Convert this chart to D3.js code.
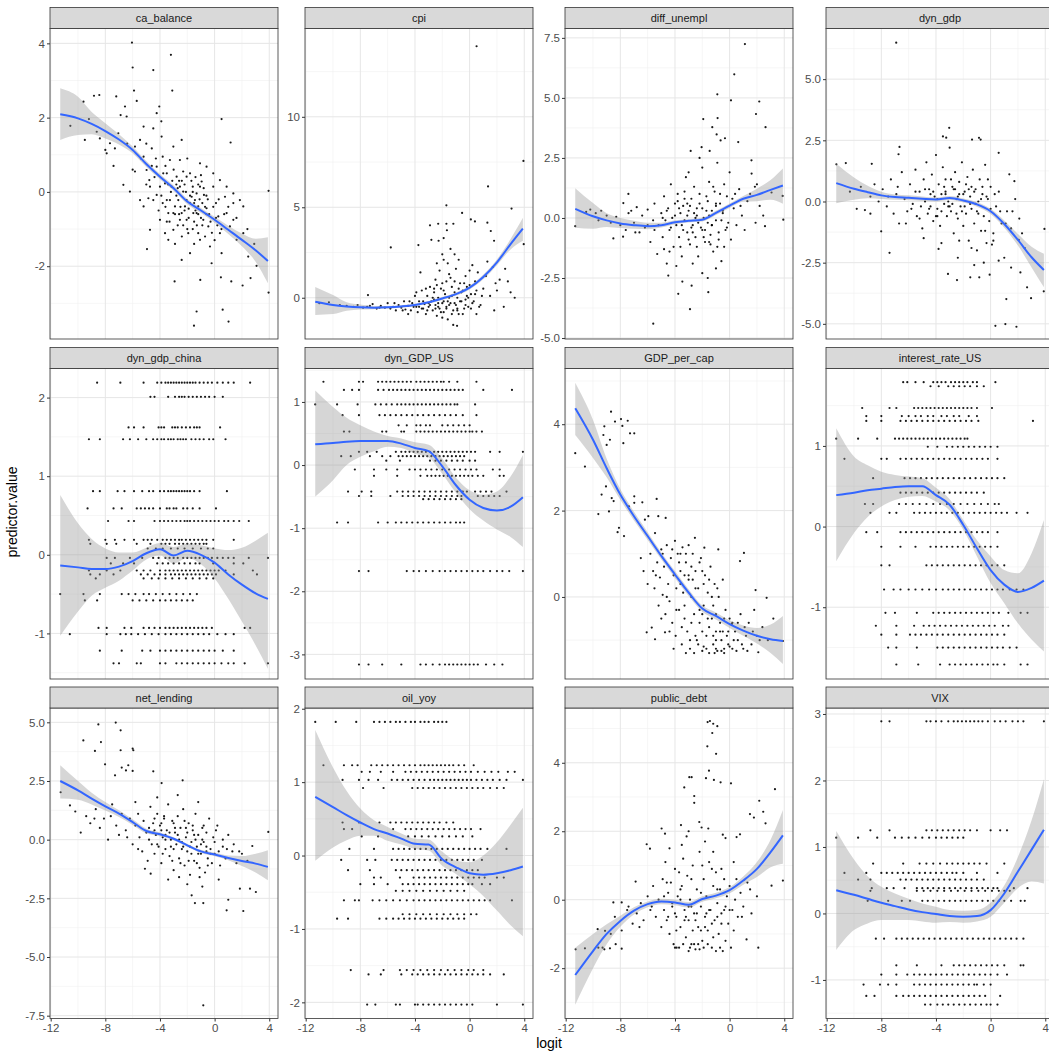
<!DOCTYPE html>
<html>
<head>
<meta charset="utf-8">
<script src="https://cdn.jsdelivr.net/npm/d3@7"></script>
<style>
  body { margin: 0; background: #fff; }
  svg { display: block; font-family: "Liberation Sans", Arial, sans-serif; }
</style>
</head>
<body>
<div class="div_facets"></div>
<script>
// facet names, in wrap order
const names = ['ca_balance', 'cpi', 'diff_unempl', 'dyn_gdp', 'dyn_gdp_china', 'dyn_GDP_US',
  'GDP_per_cap', 'interest_rate_US', 'net_lending', 'oil_yoy', 'public_debt', 'VIX'];

// shared x axis (logit)
const xTicks = [-12, -8, -4, 0, 4];

// y ticks per facet
const yTicks = [[-2, 0, 2, 4], [0, 5, 10], [-5, -2.5, 0, 2.5, 5, 7.5], [-5, -2.5, 0, 2.5, 5],
  [-1, 0, 1, 2], [-3, -2, -1, 0, 1], [0, 2, 4], [-1, 0, 1],
  [-7.5, -5, -2.5, 0, 2.5, 5], [-2, -1, 0, 1, 2], [-2, 0, 2, 4], [-1, 0, 1, 2, 3]];
const yDecimals = [0, 0, 1, 1, 0, 0, 0, 0, 1, 0, 0, 0];
// y limits per facet (as shown, incl. expansion)
const yLimits = [[-3.96, 4.40], [-2.28, 14.88], [-5.04, 7.89], [-5.62, 7.07],
  [-1.58, 2.37], [-3.39, 1.53], [-1.90, 5.29], [-1.89, 1.96],
  [-7.62, 5.61], [-2.22, 2.01], [-3.47, 5.60], [-1.58, 3.09]];

// loess smooth at these logit values
const fitX = [-11.3, -10, -9, -8, -7, -6, -5, -4, -3, -2, -1, 0, 1, 2, 3, 3.9];
const fitY = [
  [2.09, 1.98, 1.83, 1.64, 1.41, 1.13, 0.75, 0.41, 0.10, -0.26, -0.5, -0.75, -1.02, -1.29, -1.57, -1.86],
  [-0.22, -0.4, -0.48, -0.53, -0.55, -0.53, -0.48, -0.4, -0.25, -0.04, 0.2, 0.56, 1.15, 1.96, 2.96, 3.82],
  [0.38, 0.07, -0.1, -0.23, -0.3, -0.34, -0.3, -0.18, -0.12, -0.07, 0.21, 0.51, 0.8, 0.96, 1.17, 1.35],
  [0.75, 0.52, 0.38, 0.25, 0.18, 0.15, 0.11, 0.08, 0.14, 0.04, -0.12, -0.4, -0.92, -1.57, -2.28, -2.8],
  [-0.135, -0.16, -0.18, -0.18, -0.15, -0.08, 0.02, 0.07, -0.01, 0.05, 0.0, -0.1, -0.25, -0.38, -0.49, -0.56],
  [0.33, 0.35, 0.37, 0.38, 0.38, 0.38, 0.34, 0.27, 0.22, -0.02, -0.32, -0.55, -0.68, -0.72, -0.66, -0.51],
  [4.37, 3.64, 2.98, 2.37, 1.87, 1.41, 0.95, 0.52, 0.1, -0.27, -0.44, -0.63, -0.78, -0.9, -0.98, -1.02],
  [0.39, 0.42, 0.45, 0.47, 0.49, 0.5, 0.5, 0.39, 0.27, 0.02, -0.27, -0.54, -0.72, -0.81, -0.76, -0.67],
  [2.5, 2.1, 1.75, 1.42, 1.11, 0.75, 0.37, 0.23, 0.04, -0.24, -0.5, -0.63, -0.78, -0.91, -1.02, -1.16],
  [0.8, 0.66, 0.55, 0.45, 0.36, 0.3, 0.23, 0.16, 0.15, -0.05, -0.16, -0.24, -0.26, -0.24, -0.2, -0.15],
  [-2.2, -1.5, -1.0, -0.62, -0.32, -0.13, -0.05, -0.08, -0.15, 0.02, 0.12, 0.28, 0.56, 0.9, 1.39, 1.88],
  [0.35, 0.28, 0.22, 0.16, 0.11, 0.06, 0.02, -0.01, -0.04, -0.05, -0.04, 0.05, 0.3, 0.63, 0.96, 1.26]];
const fitHi = [
  [2.79, 2.56, 2.15, 1.85, 1.55, 1.22, 0.83, 0.48, 0.17, -0.19, -0.43, -0.67, -0.91, -1.12, -1.26, -1.22],
  [0.6, 0.15, -0.25, -0.38, -0.45, -0.45, -0.41, -0.33, -0.18, 0.04, 0.29, 0.66, 1.28, 2.12, 3.25, 4.42],
  [1.24, 0.62, 0.2, 0.0, -0.12, -0.2, -0.2, -0.1, -0.05, 0.01, 0.3, 0.6, 0.92, 1.22, 1.58, 2.06],
  [1.54, 0.98, 0.64, 0.4, 0.29, 0.25, 0.2, 0.16, 0.22, 0.12, -0.03, -0.3, -0.78, -1.33, -1.85, -2.14],
  [0.76, 0.40, 0.2, 0.08, 0.03, 0.03, 0.09, 0.15, 0.1, 0.14, 0.12, 0.08, 0.06, 0.09, 0.18, 0.28],
  [1.18, 0.92, 0.75, 0.63, 0.53, 0.46, 0.42, 0.36, 0.32, 0.1, -0.2, -0.4, -0.47, -0.42, -0.18, 0.16],
  [4.96, 4.1, 3.2, 2.5, 1.97, 1.5, 1.03, 0.6, 0.18, -0.2, -0.36, -0.54, -0.66, -0.72, -0.64, -0.44],
  [1.22, 0.87, 0.76, 0.68, 0.64, 0.62, 0.6, 0.48, 0.34, 0.08, -0.17, -0.37, -0.54, -0.58, -0.33, 0.08],
  [3.17, 2.5, 2.0, 1.6, 1.25, 0.87, 0.47, 0.31, 0.1, -0.18, -0.43, -0.55, -0.68, -0.7, -0.6, -0.45],
  [1.71, 1.2, 0.88, 0.64, 0.48, 0.39, 0.3, 0.23, 0.22, 0.05, -0.07, -0.09, 0.0, 0.18, 0.42, 0.65],
  [-1.4, -1.0, -0.72, -0.47, -0.22, -0.05, 0.03, 0.0, -0.07, 0.1, 0.2, 0.37, 0.68, 1.1, 1.75, 2.62],
  [1.24, 0.81, 0.56, 0.4, 0.3, 0.22, 0.15, 0.1, 0.05, 0.04, 0.05, 0.16, 0.42, 0.85, 1.4, 2.02]];
const fitLo = [
  [1.40, 1.53, 1.55, 1.44, 1.28, 1.04, 0.67, 0.34, 0.03, -0.33, -0.57, -0.83, -1.13, -1.46, -1.88, -2.46],
  [-0.95, -0.9, -0.72, -0.65, -0.63, -0.6, -0.55, -0.47, -0.32, -0.12, 0.11, 0.46, 1.02, 1.8, 2.67, 3.15],
  [-0.41, -0.45, -0.38, -0.42, -0.45, -0.47, -0.4, -0.26, -0.19, -0.15, 0.12, 0.42, 0.68, 0.7, 0.76, 0.59],
  [-0.07, 0.07, 0.13, 0.1, 0.07, 0.05, 0.02, 0.0, 0.06, -0.04, -0.21, -0.51, -1.07, -1.8, -2.7, -3.51],
  [-1.03, -0.72, -0.52, -0.42, -0.33, -0.2, -0.06, -0.01, -0.11, -0.04, -0.12, -0.3, -0.56, -0.85, -1.15, -1.45],
  [-0.5, -0.24, 0.0, 0.13, 0.22, 0.29, 0.27, 0.18, 0.12, -0.14, -0.44, -0.7, -0.88, -1.02, -1.14, -1.3],
  [3.75, 3.22, 2.77, 2.25, 1.77, 1.32, 0.87, 0.44, 0.02, -0.34, -0.52, -0.72, -0.9, -1.08, -1.3, -1.55],
  [-0.43, -0.08, 0.12, 0.25, 0.33, 0.37, 0.38, 0.31, 0.2, -0.04, -0.37, -0.7, -0.95, -1.2, -1.4, -1.55],
  [1.75, 1.7, 1.5, 1.24, 0.97, 0.63, 0.27, 0.15, -0.02, -0.3, -0.57, -0.71, -0.88, -1.12, -1.4, -1.73],
  [-0.07, 0.11, 0.21, 0.27, 0.27, 0.2, 0.15, 0.09, 0.07, -0.14, -0.25, -0.39, -0.55, -0.75, -0.95, -1.1],
  [-3.07, -2.0, -1.3, -0.79, -0.43, -0.22, -0.13, -0.16, -0.23, -0.06, 0.04, 0.19, 0.44, 0.66, 0.95, 1.05],
  [-0.55, -0.25, -0.15, -0.1, -0.1, -0.1, -0.12, -0.14, -0.13, -0.14, -0.12, -0.05, 0.16, 0.38, 0.48, 0.45]];

// scatter points [logit, value] for the continuous predictors
const caBalancePts = [[-6.05,4.02],[-6.0,3.35],[-4.49,3.28],[-3.2,3.69],[-3.1,2.73],[-5.9,2.73],[-5.7,2.45],[-8.83,2.59],[-8.44,2.61],[-7.2,2.57],[-9.6,2.43],[-10.56,1.78],[-9.5,1.4],[-9.2,1.96],[0.51,1.96],[1.17,1.33],[3.95,0.03],[3.95,-2.71],[-1.51,-3.6],[-1.32,-3.22],[0.59,-3.17],[1.02,-3.49],[-2.93,-2.41],[-1.05,-2.37],[0.46,-2.3],[1.22,-2.41],[2.05,-2.52],[3.07,-1.99],[2.63,-2.32],[-4.95,-1.54],[-4.73,-1.02],
  [-8.0,1.13],[-7.9,1.04],[-7.66,1.31],[-8.63,1.62],[-8.4,1.44],[-7.3,1.17],[-7.05,1.58],[-6.88,2.07],[-6.56,2.3],[-6.44,2.03],[-6.68,0.19],[-6.2,0.01],[-5.83,0.55],[-5.83,1.22],[-5.46,1.4],[-5.2,1.76],[-5.2,0.95],[-4.98,0.59],[-4.78,0.32],[-4.6,1.17],[-4.49,1.71],[-4.24,0.68],[-4.24,2.12],[-4.05,2.3],[-3.88,1.49],[-3.8,0.95],[-3.63,0.23],[-3.5,-0.22],[-3.39,-0.57],[-5.46,-0.22],[-5.2,-0.39],[-4.85,-0.17],[-4.24,-0.08],[-4.0,-0.75],[-3.63,-1.11],[-3.39,-1.29],[-3.02,-1.02],[-2.78,0.41],[-2.54,0.86],[-2.41,1.4],[-2.3,0.01],[-2.17,-0.39],[-2.05,-0.75],[-1.93,-1.11],[-1.8,0.5],[-1.6,0.14],[-1.44,-0.22],[-1.32,-0.57],[-1.2,-1.11],[-1.07,0.77],[-0.95,0.28],[-0.78,-0.08],[-0.59,-0.44],[-0.46,-0.93],[-0.34,-1.47],[-0.1,0.14],[0.1,-0.3],[0.27,-0.66],[0.39,-1.11],[0.51,-1.65],[0.76,-0.13],[0.88,-0.57],[1.12,-0.93],[1.37,-0.3],[1.61,-1.29],[1.85,-0.22],[2.1,-1.11],[2.46,-1.74],
  [-3.27,-0.22],[-3.15,0.14],[-2.9,-0.39],[-2.66,-0.22],[-2.41,-0.57],[-2.05,-0.22],[-1.8,-0.3],[-1.56,-0.57],[-1.2,-0.39],[-0.83,-0.75],[-1.68,-0.13],[-1.32,-0.04],[-1.07,0.14],[-3.02,-0.57],[-2.54,-0.75],[-1.07,-1.29],[-1.8,-1.65],[-2.41,-1.83],[-0.22,-1.92],[1.37,-0.75],[-4.0,0.14],[-4.49,-0.22],[-3.27,0.86],[-3.02,1.22],[-3.76,0.5],[-4.73,0.14],[-2.54,0.14],[-2.05,0.41],[-0.59,0.68],[-0.1,0.5],[0.39,0.32],[0.88,0.14],[1.37,-0.04],[2.1,-0.39],
  [-2.8,-0.1],[-2.6,0.3],[-2.2,0.2],[-1.9,-0.45],[-1.5,-0.8],[-1.4,0.4],[-0.9,-0.3],[-0.6,-0.1],[-2.4,-1.2],[-3.6,-0.4],[-3.0,0.6],[-2.0,0.9],[-1.2,-0.6],[-0.4,-0.6],[0.2,-0.9],[-2.7,-0.9],[-1.6,-1.0],[-0.7,-1.2],[0.0,-1.3],[-3.4,0.2],[-4.3,0.9],[-5.0,0.2],[-3.9,-0.1],[-2.3,0.55],[-1.0,0.45],
  [-3.8,-0.3],[-3.5,0.5],[-3.3,-0.8],[-3.1,0.3],[-2.9,-0.6],[-2.7,0.1],[-2.5,-0.4],[-2.3,-0.9],[-2.1,0.0],[-1.9,-0.7],[-1.7,0.3],[-1.5,-0.3],[-1.3,-0.9],[-1.1,-0.2],[-0.9,-0.9],[-0.7,-0.4],[-0.5,-0.2],[-0.3,-0.8],[-0.1,-0.4],[0.1,-0.7],[0.3,-0.2],[0.5,-1.0],[0.7,-0.6],[-2.6,-0.6],[-2.2,-0.5],[-1.8,-0.1],[-1.4,-0.5],[-1.0,-0.7],[-0.6,-0.6],[-2.0,-1.0],[-3.2,0.0],[-2.8,0.2],[-2.4,0.3],[-1.6,0.0],[-1.2,0.2],[-0.8,0.1],[-3.6,0.7],[-4.4,0.4],[-4.6,0.7],[-5.4,0.9],[-6.0,0.6],[-6.4,1.3],[-7.4,0.7],[-5.0,1.3],[-3.9,1.9],[-2.9,-1.4],[-1.5,-1.4],[-0.2,-1.1],[1.0,-0.4],[1.6,-0.7],[2.4,-1.0],[2.9,-1.4],[-4.1,-0.5],[-3.5,-0.8]];

const cpiPts = [[0.51,13.9],[3.94,7.56],[1.35,6.15],[-1.7,5.11],[-0.55,4.69],[0.09,4.33],[0.39,4.22],[-2.3,4.09],[-1.7,4.09],[-1.19,4.09],[3.07,4.93],[-5.77,2.78],[-3.75,2.91],[-2.27,3.15],[-1.66,3.73],[1.3,4.15],[1.55,3.69],[3.96,2.96],[1.79,3.15],[-7.44,0.15],[-0.92,-1.55],
  [-11.0,-0.3],[-10.3,-0.25],[-9.5,-0.4],[-9,-0.45],[-8.5,-0.5],[-8.2,-0.4],[-7.8,-0.55],[-7.5,-0.5],[-7.1,-0.35],[-6.8,-0.6],[-6.5,-0.45],[-6.2,-0.55],[-6,-0.3],[-5.8,-0.6],[-5.6,-0.5],[-5.4,-0.7],[-5.2,-0.4],[-5,-0.55],[-4.8,-0.2],[-4.7,-0.65],[-4.5,-0.45],[-4.3,-0.7],[-4.2,-0.3],[-4,0.1],[-3.9,-0.5],[-3.8,-0.8],[-3.7,-0.2],[-3.5,0.4],[-3.4,-0.6],[-3.3,-0.35],[-3.2,-0.9],[-3.1,0.1],[-3,-0.5],[-2.9,0.6],[-2.8,-0.2],[-2.7,-0.7],[-2.6,0.3],[-2.5,1.0],[-2.5,-0.4],[-2.4,-1.0],[-2.3,0.0],[-2.2,1.5],[-2.2,-0.6],[-2.1,0.5],[-2,-0.3],[-1.9,2.1],[-1.9,-0.8],[-1.8,0.2],[-1.7,0.9],[-1.7,-0.5],[-1.6,-1.2],[-1.5,0.0],[-1.5,1.3],[-1.4,-0.3],[-1.3,0.6],[-1.2,-0.7],[-1.1,0.3],[-1,1.6],[-1,-0.4],[-0.9,0.0],[-0.8,-0.9],[-0.7,0.8],[-0.6,-0.2],[-0.5,0.4],[-0.4,-0.6],[-0.3,1.2],[-0.2,0.1],[-0.1,-0.5],[0,0.7],[0.2,-0.3],[0.4,0.2],[0.6,1.4],[0.8,-0.4],[1,0.5],[1.3,2.0],[1.5,0.1],[1.8,-0.7],[2.2,1.0],[2.5,-0.5],[3,0.3],[-2.8,3.2],[-2.9,4.0],[-4.5,-0.9],[-1.2,-1.5],[-2.0,-1.1],[0.5,-0.9],[-3.6,1.4],[-1.4,2.7],[-0.8,2.1],[0.2,1.8],[1.9,0.8],[2.6,1.6],[3.3,0.0],[-1.9,3.3],[-2.0,2.4],
  [-3.0,-0.3],[-2.6,-0.1],[-2.3,-0.5],[-1.9,0.4],[-1.6,-0.2],[-1.3,0.1],[-0.9,-0.6],[-0.6,0.3],[-0.3,-0.1],[0.1,0.2],[-3.5,-0.6],[-4.1,-0.5],[-2.4,0.7],[-1.1,0.9],[-0.4,0.8],
  [-3.7,-0.5],[-3.4,-0.2],[-3.1,-0.7],[-2.9,-0.4],[-2.7,0.0],[-2.5,-0.6],[-2.3,-0.3],[-2.1,-0.8],[-1.9,-0.2],[-1.7,-0.6],[-1.5,-0.4],[-1.3,-0.9],[-1.1,-0.3],[-0.9,-0.7],[-0.7,-0.2],[-0.5,-0.9],[-0.3,-0.4],[-0.1,0.0],[0.1,-0.6],[0.3,-0.2],[0.5,0.4],[0.7,-0.5],[0.9,0.1],[-2.6,0.5],[-2.0,0.8],[-1.4,1.1],[-0.8,0.5],[-0.2,0.6],[0.4,0.9],[1.2,1.2],[1.7,1.7],[2.0,0.4],[2.8,0.9],[-5.5,-0.3],[-6.6,-0.55],[-7.3,-0.45],[-4.9,-0.7],[-4.4,-0.2],[-3.9,0.3],[-3.2,0.5],[-2.4,1.9],[-1.6,1.9],[-1.1,2.4],[0.0,1.5]];

const diffUnemplPts = [[1.12,7.24],[0.34,5.98],[-0.9,5.15],[0.1,4.9],[2.17,4.85],[1.93,4.33],[-1.93,4.12],[-0.88,4.16],[-1.27,3.78],[2.63,3.78],[-0.95,3.48],[-0.66,3.23],[-0.34,3.32],[-2.85,2.79],[-2.05,2.95],[-1.46,2.79],[0.63,3.16],[-5.59,-4.4],[-2.9,-3.8],[-3.76,-3.16],[-1.56,-3.09],[-3.46,-2.65],[-2.78,-2.82],[-4.49,-2.4],[-11.3,-0.34],[3.93,-0.07],[3.88,0.92],[3.07,1.06],[2.46,0.1],[2.59,-0.34],[1.85,1.3],[1.61,1.85],[-7.78,0.62],[-9.6,-0.1],[-7.41,1.0],[-8.51,-0.85],[-7.8,-0.78],
  [-10.5,0.25],[-10.2,0.35],[-9.8,0.2],[-9.4,0.3],[-9,0.1],[-8.7,-0.2],[-8.3,0.05],[-8,-0.3],[-7.6,-0.5],[-7.2,0.3],[-7,-0.2],[-6.8,0.45],[-6.6,-0.6],[-6.4,0.1],[-6.2,-0.4],[-6,0.35],[-5.8,-1.0],[-5.6,-0.1],[-5.5,0.6],[-5.3,-1.5],[-5.2,-0.3],[-5,0.2],[-4.9,-0.8],[-4.8,0.9],[-4.7,-0.1],[-4.6,-1.9],[-4.5,0.4],[-4.4,-0.5],[-4.3,1.4],[-4.2,0.0],[-4.1,-1.2],[-4,0.6],[-3.9,-0.3],[-3.8,1.0],[-3.7,-0.8],[-3.6,0.2],[-3.5,-1.6],[-3.4,0.5],[-3.3,-0.1],[-3.2,1.7],[-3.1,-0.6],[-3,0.3],[-2.9,-1.1],[-2.8,0.8],[-2.7,-0.3],[-2.6,1.3],[-2.5,-0.8],[-2.4,0.1],[-2.3,-1.6],[-2.2,0.6],[-2.1,-0.4],[-2,2.1],[-1.9,0.0],[-1.8,-1.0],[-1.7,0.9],[-1.6,-0.2],[-1.5,1.5],[-1.4,-0.7],[-1.3,0.3],[-1.2,-1.4],[-1.1,1.1],[-1,-0.1],[-0.9,2.3],[-0.8,-0.6],[-0.7,0.6],[-0.6,-1.8],[-0.5,0.2],[-0.4,1.4],[-0.3,-0.5],[-0.2,0.9],[-0.1,-0.2],[0,1.9],[0.1,-0.9],[0.3,0.4],[0.5,-0.3],[0.7,1.2],[0.9,0.1],[1.1,-0.5],[1.3,0.7],[1.6,2.4],[1.9,-0.2],[2.2,0.5],[-3.9,-2.0],[-2.0,-2.3],[-1.0,-2.1],[-4.8,-1.3],[-3.0,1.9],[-2.2,2.5],
  [-3.5,-0.3],[-3.1,0.1],[-2.7,-0.6],[-2.4,0.4],[-2.0,-0.5],[-1.7,0.3],[-1.3,-0.3],[-1.0,0.5],[-0.6,-0.1],[-2.5,0.0],[-1.5,-1.0],[-3.3,0.8],
  [-4.9,0.0],[-4.6,0.3],[-4.3,-0.4],[-4.0,0.1],[-3.7,0.4],[-3.4,-0.5],[-3.1,0.6],[-2.8,-0.4],[-2.6,0.2],[-2.3,-0.2],[-2.0,0.4],[-1.8,-0.5],[-1.5,0.1],[-1.3,-0.3],[-1.0,0.6],[-0.8,-0.9],[-0.5,0.3],[-0.2,-0.4],[0.2,0.8],[-3.6,-1.2],[-3.0,-0.9],[-2.4,-1.2],[-1.9,-0.8],[-1.4,-1.1],[-0.9,-1.2],[-3.8,0.7],[-3.3,1.1],[-2.9,0.5],[-2.2,1.0],[-1.6,0.7],[-1.2,1.3],[-0.7,1.0],[0.4,1.0],[0.8,0.5],[1.5,1.0],[2.0,1.4],[-5.5,-0.5],[-6.0,-0.3],[-6.9,-0.6],[-7.4,0.2],[-4.4,-1.4],[-2.7,-1.9],[-1.6,-2.5],[-0.4,-1.2]];

const dynGdpPts = [[-6.91,6.49],[-11.29,1.52],[-10.6,1.57],[-8.7,1.54],[-6.67,2.23],[-6.74,1.93],[-3.03,3.01],[-3.49,2.66],[-3.25,2.61],[-1.36,2.53],[-0.85,2.6],[-0.73,2.53],[0.59,1.99],[1.37,1.11],[1.74,0.83],[-8.01,-1.22],[-7.4,-2.1],[-4.9,-1.5],[-3.81,-1.94],[-3.12,-2.96],[-2.46,-3.21],[-1.49,-3.1],[-0.83,-3.1],[-0.07,-2.99],[0.35,-5.08],[1.08,-5.01],[1.89,-5.12],[1.15,-3.99],[2.18,-2.9],[2.67,-3.51],[2.96,-3.95],[3.94,-1.12],[3.89,-3.67],[2.06,-1.57],[0.1,-1.76],[0.59,-2.42],
  [-10.3,0.4],[-9.8,-0.3],[-9.5,0.6],[-9.2,-0.35],[-8.8,0.2],[-8.5,0.7],[-8.2,0.0],[-7.9,0.5],[-7.6,-0.2],[-7.3,0.9],[-7.1,-0.5],[-6.9,0.3],[-6.7,-0.9],[-6.5,1.2],[-6.3,0.1],[-6.1,-0.4],[-5.9,0.7],[-5.7,-0.1],[-5.5,1.3],[-5.4,-0.6],[-5.2,0.4],[-5,-1.1],[-4.9,0.9],[-4.8,0.0],[-4.7,1.6],[-4.6,-0.5],[-4.5,0.5],[-4.4,-0.2],[-4.3,1.1],[-4.2,-0.8],[-4.1,0.2],[-4,1.9],[-3.9,-0.3],[-3.8,0.7],[-3.7,-1.0],[-3.6,0.3],[-3.5,1.4],[-3.4,-0.1],[-3.3,0.9],[-3.2,-0.6],[-3.1,0.0],[-3,2.2],[-2.9,-0.4],[-2.8,0.6],[-2.7,-1.3],[-2.6,1.2],[-2.5,0.1],[-2.4,-0.7],[-2.3,0.8],[-2.2,-0.2],[-2.1,1.6],[-2,-1.0],[-1.9,0.4],[-1.8,-0.5],[-1.7,1.0],[-1.6,-1.6],[-1.5,0.2],[-1.4,-0.3],[-1.3,1.3],[-1.2,-0.9],[-1.1,0.5],[-1,-2.0],[-0.9,0.0],[-0.8,0.9],[-0.7,-1.2],[-0.6,0.3],[-0.5,-0.6],[-0.4,1.5],[-0.3,-1.7],[-0.2,0.1],[-0.1,-0.8],[0,0.6],[0.2,-1.3],[0.4,-0.2],[0.6,0.4],[0.8,-0.9],[1,-2.3],[1.2,-0.4],[1.5,-1.1],[1.8,0.1],[2.1,-0.7],[2.5,-1.9],[-2.4,-2.3],[-1.2,-2.6],[-3.6,-1.7],[-0.5,-2.5],[1.5,-2.7],
  [-4.4,0.3],[-3.9,-0.6],[-3.3,0.4],[-2.8,-0.1],[-2.3,0.3],[-1.9,-0.2],[-1.4,0.6],[-1.0,-0.4],[-2.6,0.5],[-3.1,-0.2],
  [-5.8,-0.3],[-5.5,0.4],[-5.1,-0.2],[-4.8,0.5],[-4.5,-0.3],[-4.2,0.4],[-3.9,0.1],[-3.6,-0.4],[-3.3,0.3],[-3.0,-0.2],[-2.7,0.5],[-2.4,0.2],[-2.1,-0.4],[-1.8,0.7],[-1.5,-0.1],[-1.2,0.4],[-0.9,-0.5],[-0.6,0.6],[-0.3,0.2],[0.0,-0.3],[0.3,0.3],[-4.0,-0.6],[-3.4,0.6],[-2.9,0.9],[-2.5,-0.5],[-2.0,0.3],[-1.6,0.5],[-1.1,-0.1],[-0.7,0.1],[-0.2,0.9],[0.7,-0.4],[1.1,-0.9],[1.6,-0.4],[2.3,-1.3],[-5.2,-0.7],[-6.2,-0.9],[-7.5,0.2],[-8.8,-0.5],[-6.8,0.6],[-2.3,-1.6],[-1.4,-1.9],[-0.4,-1.2],[0.2,-1.6]];

const gdpPerCapPts = [[-11.3,3.33],[-10.59,3.02],[-9.17,3.95],[-8.68,4.29],[-9.24,3.75],[-9.0,3.52],[-8.76,3.64],[-8.39,4.06],[-7.95,4.12],[-7.85,3.96],[-7.46,4.08],[-7.78,3.56],[-7.29,3.79],[-6.98,3.79],[-9.61,1.92],[-8.83,1.98],[-9.37,2.37],[-9.05,2.56],[-8.63,2.29],[-8.49,2.22],[-8.2,1.5],[-8.1,1.6],[-7.73,1.41],[-7.37,2.1],[-6.98,2.33],[-6.98,2.18],[-6.39,2.19],[-5.34,2.27],[-6.2,1.79],[-5.95,1.87],[-5.22,1.87],[-4.68,1.83],[-5.46,1.48],[-6.07,-0.82],[-5.7,-0.71],[-5.46,-0.98],[-4.73,-0.82],[3.9,-1.02],[2.71,-0.02],[1.9,0.16],[1.05,1.02],[0.76,0.83],[-2.54,1.37],[-1.85,1.14],[-0.83,1.1],[0.15,-0.63],[2.1,-1.28],
  [-6.5,0.9],[-6.3,0.6],[-6,0.3],[-5.8,1.0],[-5.6,0.6],[-5.5,0.2],[-5.3,0.8],[-5.2,-0.2],[-5.1,0.45],[-5,1.1],[-4.9,0.05],[-4.8,0.7],[-4.7,-0.4],[-4.6,1.2],[-4.5,0.3],[-4.4,-0.1],[-4.3,0.9],[-4.2,-0.6],[-4.1,0.5],[-4,1.3],[-3.95,-0.9],[-3.9,0.2],[-3.8,1.0],[-3.7,-0.3],[-3.6,0.6],[-3.5,-1.1],[-3.45,1.15],[-3.4,0.1],[-3.3,-0.5],[-3.2,0.8],[-3.1,-0.8],[-3,0.4],[-2.9,-1.2],[-2.8,0.0],[-2.7,1.0],[-2.6,-0.4],[-2.5,0.6],[-2.4,-1.0],[-2.3,0.2],[-2.2,-0.6],[-2.1,0.9],[-2,-1.25],[-1.9,-0.2],[-1.8,0.5],[-1.7,-0.9],[-1.6,0.1],[-1.5,-1.3],[-1.4,0.7],[-1.3,-0.5],[-1.2,-1.1],[-1.1,0.3],[-1,-0.8],[-0.9,-1.25],[-0.8,0.0],[-0.7,-0.6],[-0.6,-1.0],[-0.5,0.4],[-0.4,-1.2],[-0.3,-0.3],[-0.2,-0.9],[-0.1,-1.1],[0,-0.5],[0.2,-1.2],[0.4,-0.8],[0.6,-1.0],[0.8,-0.4],[1,-1.2],[1.2,-0.9],[1.4,-0.6],[1.6,-1.1],[1.8,-0.3],[2.0,-0.9],[2.4,-0.7],[2.8,-1.0],[3.2,-0.5],[-3.2,-1.3],[-2.6,-1.3],[-1.9,-1.15],[-1.1,-1.3],[-0.4,-1.3],[-4.4,-0.8],[-5.0,-0.5],[-3.0,1.2],[-2.2,0.8],[-4.2,1.1],[-3.6,1.0],
  [-2.5,-0.9],[-2.0,-0.4],[-1.5,-0.7],[-1.0,-1.0],[-0.5,-0.8],[0.3,-1.0],[-3.3,0.5],[-2.8,0.7],[-1.2,-0.2],[0.9,-1.1],
  [-3.9,-0.3],[-3.6,0.3],[-3.3,-0.2],[-3.0,0.5],[-2.8,-0.6],[-2.5,0.2],[-2.2,-0.3],[-1.9,0.3],[-1.6,-0.5],[-1.3,0.0],[-1.0,-0.4],[-0.7,-0.8],[-0.4,-0.5],[-0.1,-0.8],[0.2,-0.6],[-2.9,-1.0],[-2.3,-1.1],[-1.7,-1.2],[-1.2,-0.9],[-0.6,-1.25],[0.0,-1.15],[0.5,-1.25],[-3.7,0.8],[-4.6,0.0],[-5.4,0.5],[-4.9,1.0],[-3.2,1.0],[-2.7,0.4],[-2.0,0.6],[-1.5,0.4],[-0.9,0.2],[0.6,-0.6],[1.1,-0.7],[1.7,-0.8],[2.2,-1.0],[-4.1,-1.2],[-3.5,-0.7],[-2.0,-0.8],[-1.0,-1.2],[1.3,-1.25]];

const netLendingPts = [[-8.51,4.91],[-7.24,4.99],[-6.88,4.66],[-9.61,4.23],[-8.76,3.78],[-8.32,4.16],[-6.88,3.81],[-6.0,3.88],[-5.95,3.81],[-8.02,3.21],[-6.32,3.17],[-6.49,2.95],[-6.8,3.07],[-6.0,2.93],[-7.29,2.74],[-4.49,2.91],[-3.88,2.41],[-2.34,2.53],[-11.27,2.02],[-10.59,1.46],[-0.83,-7.06],[-1.68,-2.37],[-1.44,-2.7],[-0.83,-2.7],[0.88,-3.01],[1.0,-2.56],[2.1,-3.04],[1.85,-2.09],[2.59,-2.09],[3.02,-2.23],[3.93,0.33],[2.76,-0.27],[-4.68,-1.45],[-5.1,-1.24],
  [-10.2,1.2],[-9.8,0.3],[-9.4,1.0],[-9.1,0.7],[-8.7,1.3],[-8.4,0.5],[-8.1,0.9],[-7.8,0.0],[-7.5,1.5],[-7.2,0.6],[-7,0.2],[-6.8,1.1],[-6.5,0.4],[-6.2,0.9],[-6,-0.2],[-5.8,0.6],[-5.6,1.1],[-5.5,0.1],[-5.3,-0.5],[-5.2,0.8],[-5,0.3],[-4.9,-0.9],[-4.8,0.5],[-4.7,1.4],[-4.6,-0.2],[-4.5,0.7],[-4.4,-0.6],[-4.3,0.2],[-4.2,1.1],[-4.1,-0.3],[-4,0.6],[-3.9,-1.0],[-3.8,0.1],[-3.7,0.9],[-3.6,-0.4],[-3.5,0.4],[-3.4,1.5],[-3.3,-0.7],[-3.2,0.0],[-3.1,0.8],[-3,-1.3],[-2.9,0.3],[-2.8,-0.2],[-2.7,1.0],[-2.6,-0.8],[-2.5,0.5],[-2.4,-0.4],[-2.3,1.3],[-2.2,-1.1],[-2.1,0.1],[-2,-0.5],[-1.9,0.7],[-1.8,-1.5],[-1.7,-0.1],[-1.6,0.4],[-1.5,-0.9],[-1.4,1.1],[-1.3,-0.3],[-1.2,0.2],[-1.1,-1.2],[-1,-0.6],[-0.9,0.5],[-0.8,-0.1],[-0.7,-1.4],[-0.6,0.3],[-0.5,-0.8],[-0.4,0.9],[-0.3,-0.4],[-0.2,-1.0],[-0.1,0.1],[0,-0.6],[0.2,0.6],[0.4,-1.1],[0.6,-0.3],[0.8,-0.8],[1.0,0.2],[1.3,-0.5],[1.6,-1.0],[2.0,-0.6],[2.4,-0.9],[-3.4,-1.7],[-2.0,-1.9],[-0.9,-2.0],[0.3,-1.7],[-4.2,1.8],[-2.7,1.9],[-1.2,1.6],[-5.8,1.6],
  [-3.6,0.2],[-3.2,-0.3],[-2.9,0.5],[-2.6,0.0],[-2.3,-0.3],[-2.0,0.3],[-1.7,-0.6],[-1.4,0.0],[-1.0,-0.2],[-0.6,-0.5],[-4.4,0.4],[-3.9,0.7],
  [-4.8,0.0],[-4.5,0.3],[-4.2,-0.2],[-3.9,0.4],[-3.6,0.0],[-3.3,0.3],[-3.0,-0.4],[-2.7,0.2],[-2.4,-0.1],[-2.1,0.5],[-1.8,-0.3],[-1.5,0.2],[-1.2,-0.6],[-0.9,0.0],[-0.6,-0.3],[-0.3,-0.6],[0.0,-0.1],[0.3,-0.5],[0.6,0.0],[0.9,-0.4],[-3.8,-0.6],[-3.1,-0.9],[-2.5,-1.0],[-1.9,-0.9],[-1.3,-1.0],[-0.5,-1.1],[-4.4,0.9],[-3.7,1.0],[-3.0,0.7],[-2.2,0.8],[-1.6,0.6],[-0.8,0.6],[0.1,0.4],[1.4,-0.2],[1.8,-0.5],[-5.6,-0.4],[-6.4,0.1],[-7.6,1.0],[-8.8,0.9],[-2.6,-1.6],[-1.1,-1.6]];

const publicDebtPts = [[-1.61,5.19],[-1.44,5.22],[-1.2,5.14],[-0.9,5.07],[-1.27,4.87],[-1.63,4.48],[-0.99,4.26],[-1.51,3.77],[-2.95,3.58],[-2.78,3.58],[-1.73,3.55],[-1.15,3.5],[-0.66,3.43],[0.1,3.4],[-3.32,3.28],[-2.59,3.03],[-2.59,2.83],[3.32,3.23],[2.17,2.89],[1.49,2.5],[1.78,2.4],[2.46,2.57],[2.63,2.23],[3.9,0.56],[3.07,0.41],[-11.27,-1.45],[-10.59,-1.42],[-9.61,-1.4],[-9.17,-1.45],[-8.76,-1.42],[-9.12,-0.91],[-9.66,-0.86],[-8.51,-0.08],[-7.9,-0.08],[-7.9,-1.43],[-8.34,-1.3],[-6.88,0.53],[2.1,-1.4],[1.24,-1.16],[-3.88,-1.4],[-3.56,2.18],[-3.15,1.85],[-4.98,2.08],[-4.73,1.93],[-6.07,1.62],[-5.83,1.49],[-2.22,2.27],[-2.05,2.11],[-1.56,2.08],[0.51,1.83],[0.76,1.91],
  [-8.4,-0.5],[-7.9,-0.9],[-7.5,-0.3],[-7.1,-0.7],[-6.8,-0.4],[-6.5,-0.1],[-6.3,-0.6],[-6,0.1],[-5.8,-0.3],[-5.6,0.4],[-5.4,-0.5],[-5.2,0.0],[-5,-0.8],[-4.9,0.6],[-4.8,-0.3],[-4.7,1.1],[-4.6,-0.6],[-4.5,0.2],[-4.4,-1.0],[-4.3,0.5],[-4.2,-0.2],[-4.1,-1.3],[-4,0.9],[-3.9,-0.5],[-3.8,0.1],[-3.7,-1.4],[-3.6,-0.8],[-3.5,0.4],[-3.4,1.2],[-3.3,-0.3],[-3.2,-1.1],[-3.1,0.7],[-3,-0.6],[-2.9,0.0],[-2.8,-1.3],[-2.7,1.0],[-2.6,-0.4],[-2.5,-1.45],[-2.4,0.3],[-2.3,-0.8],[-2.2,1.4],[-2.1,-0.2],[-2,-1.2],[-1.9,0.6],[-1.8,-0.5],[-1.7,0.1],[-1.6,-0.9],[-1.5,1.1],[-1.4,-0.3],[-1.3,-1.4],[-1.2,0.4],[-1.1,-0.6],[-1,0.8],[-0.9,-0.1],[-0.8,-1.0],[-0.7,0.3],[-0.6,-0.4],[-0.5,-1.5],[-0.4,0.6],[-0.3,-0.2],[-0.2,0.1],[-0.1,-0.7],[0,0.4],[0.2,-0.3],[0.4,0.0],[0.6,-0.5],[0.8,0.2],[1.0,-0.2],[1.3,0.5],[1.6,-0.4],[2.0,0.1],[-3.0,-1.5],[-2.3,-1.3],[-1.0,-1.5],[-3.5,1.6],[-1.8,1.7],[-0.5,1.9],[-0.3,1.8],
  [-4.0,-0.4],[-3.6,0.0],[-3.2,-0.5],[-2.8,-0.2],[-2.5,-0.6],[-2.1,-0.9],[-1.7,-0.4],[-1.3,-0.7],[-0.9,-0.5],[-0.4,-0.3],[-2.6,-1.3],[-1.9,-1.4],
  [-4.8,0.1],[-4.5,-0.5],[-4.2,-0.1],[-3.9,-0.9],[-3.6,0.3],[-3.3,-0.6],[-3.0,-0.2],[-2.7,-0.9],[-2.4,-0.4],[-2.1,0.2],[-1.8,-0.8],[-1.5,-0.3],[-1.2,-1.1],[-0.9,0.3],[-0.6,-0.7],[-0.3,-1.2],[0.0,-0.3],[0.3,-0.9],[-4.0,-1.4],[-3.4,-1.3],[-2.9,-1.4],[-2.2,-1.45],[-1.6,-1.3],[-0.7,-1.4],[0.1,-1.4],[-4.6,0.5],[-3.7,0.8],[-2.8,0.6],[-2.0,1.0],[-1.3,0.9],[-0.6,0.9],[0.5,0.6],[0.9,-0.5],[1.5,0.3],[-5.7,-0.2],[-6.6,-0.8],[-7.4,-0.2],[-9.3,-1.4],[-8.7,-1.0],[-4.4,1.5],[-3.0,2.0],[-1.2,1.4],[0.3,1.1]];

// discrete predictors: value levels and the logit values seen on each level
const chinaLevels = [2.19, 2.01, 1.62, 1.47, 0.81, 0.59, 0.43, 0.19, 0.14, 0.08, -0.04, -0.11, -0.2, -0.25, -0.3, -0.5, -0.58, -0.93, -1.01, -1.22, -1.38];
const chinaX = [
  [-8.6,-6.9,-5.2,-4.2,-3.9,-3.6,-3.4,-3.2,-3.0,-2.8,-2.6,-2.4,-2.2,-2.0,-1.8,-1.6,-1.4,-1.1,-0.8,-0.5,-0.2,0.2,0.6,1.0,1.4,2.6],
  [-4.7,-4.4,-3.4,-2.9,-2.6,-2.4,-2.2,-1.9,-1.6,-1.3,-1.0,-0.7,-0.4,0.0,0.6],
  [-6.3,-5.9,-5.2,-4.1,-3.9,-3.7,-3.1,-2.9,-2.7,-2.4,-2.1,-1.8,-1.5,-1.3,-1.1,0.4],
  [-9.2,-8.4,-6.7,-6.2,-5.6,-5.0,-4.5,-4.2,-3.9,-3.7,-3.4,-3.2,-3.0,-2.7,-2.5,-2.3,-2.1,-1.7,-1.4,-1.1,-0.8,-0.4,-0.1,0.8],
  [-8.9,-8.4,-7.1,-6.6,-5.9,-5.3,-4.8,-4.5,-4.0,-3.7,-3.4,-3.2,-3.0,-2.8,-2.6,-2.4,-2.2,-2.0,-1.8,-1.5,-1.1,0.9],
  [-9.3,-7.4,-6.8,-5.7,-5.4,-5.1,-4.8,-4.5,-4.0,-3.5,-3.3,-3.0,-2.8,-2.3,-2.0,-1.6,-1.1,0.1],
  [-7.8,-6.3,-5.9,-4.4,-4.0,-3.7,-3.4,-3.1,-2.8,-2.5,-2.2,-2.0,-1.8,-1.5,-1.2,-0.9,-0.6,-0.3,0.0,0.3,0.7,1.0,1.4,1.8,2.5],
  [-9.2,-8.0,-7.3,-6.6,-5.9,-5.2,-4.9,-4.6,-4.2,-3.8,-3.5,-3.2,-2.9,-2.6,-2.4,-2.1,-1.8,-1.5,-1.2,-0.9,-0.6,-0.1,1.4],
  [-9.1,-7.9,-7.2,-5.7,-4.7,-3.9,-3.6,-3.3,-2.9,-2.6,-2.3,-2.0,-1.7,-1.4,-1.1,-0.8,-0.6],
  [-4.9,-4.3,-3.8,-3.2,-2.7,-2.2,-1.6,-1.0,-0.5,-0.1],
  [-7.9,-7.3,-6.2,-5.3,-4.5,-4.1,-3.6,-3.3,-3.0,-2.7,-2.3,-2.0,-1.7,-1.4,-1.1,-0.8,-0.5,-0.2,0.2,0.6,1.0,1.4,2.5,3.9],
  [-7.6,-6.7,-5.9,-4.2,-3.8,-3.4,-3.0,-2.6,-2.2,-1.8,-1.4,-1.1,-0.1,1.4,2.1],
  [-9.2,-7.9,-6.9,-5.7,-5.2,-4.7,-4.0,-3.6,-3.3,-3.0,-2.7,-2.4,-2.1,-1.8,-1.5,-1.2,-0.9,-0.6,-0.3,0.0,0.3,0.8,2.8],
  [-9.1,-8.4,-7.4,-5.4,-4.9,-4.4,-4.0,-3.6,-3.2,-2.9,-2.6,-2.3,-2.0,-1.7,-1.4,-1.1,-0.8,-0.5,-0.2,0.1,1.4,3.1],
  [-8.7,-5.2,-4.6,-4.1,-3.6,-3.1,-2.6,-2.1,-1.6,-1.1,-0.6,-0.1],
  [-11.3,-9.6,-8.4,-6.8,-6.3,-5.8,-5.2,-4.8,-4.3,-3.8,-3.3,-2.8,-2.3,-1.8,-1.3],
  [-9.5,-8.6,-6.0,-5.5,-5.0,-4.5,-4.0,-3.6,-3.2,-2.8,-2.4,-2.0,-1.6],
  [-8.5,-7.9,-6.6,-6.1,-5.2,-4.8,-4.4,-4.0,-3.6,-3.3,-3.0,-2.7,-2.4,-2.1,-1.8,-1.5,-1.2,-0.9,-0.6,-0.2,2.2,2.6],
  [-10.6,-7.9,-6.9,-6.5,-6.1,-5.6,-5.1,-4.6,-4.1,-3.6,-3.2,-2.8,-2.4,-2.0,-1.6,-1.2,-0.8,-0.4,0.2,0.8,1.4],
  [-8.4,-6.8,-5.3,-4.7,-4.0,-3.6,-3.2,-2.8,-2.4,-2.0,-1.6,-1.2,-0.8,-0.4,0.0,0.6,1.4],
  [-7.4,-7.0,-5.7,-5.4,-4.0,-3.6,-2.8,-2.4,-2.0,-1.6,-1.2,-0.8,-0.4,0.0,0.5,1.0,1.4,2.2,3.9]];

const gdpUsLevels = [1.32, 1.19, 0.96, 0.79, 0.63, 0.53, 0.21, 0.14, 0.07, -0.07, -0.17, -0.42, -0.49, -0.54, -0.91, -1.68, -3.16];
const gdpUsX = [
  [-10.7,-8.1,-7.8,-6.7,-6.4,-6.1,-5.8,-5.5,-5.2,-4.9,-4.6,-4.3,-3.9,-3.6,-3.3,-3.0,-2.7,-2.4,-2.1,-1.9,-1.5,-0.9,0.5],
  [-9.2,-8.6,-8.1,-6.7,-6.3,-5.9,-5.6,-5.3,-5.0,-4.7,-4.4,-4.1,-3.8,-3.5,-3.2,-2.9,-2.6,-2.3,-2.0,-1.7,-1.4,-1.1,-0.8,-0.5,1.0,3.1],
  [-11.3,-9.7,-8.2,-6.9,-6.5,-6.1,-5.7,-5.3,-5.0,-4.7,-4.4,-4.1,-3.8,-3.5,-3.2,-2.9,-2.6,-2.3,-2.0,-1.7,-1.4,-1.1,-0.9,0.4],
  [-9.3,-8.1,-6.6,-6.2,-5.8,-5.4,-5.0,-4.6,-4.2,-3.8,-3.4,-3.0,-2.6,-2.2,-1.8,-1.4,-1.0,-0.5,0.5],
  [-5.2,-4.6,-3.9,-3.6,-3.2,-2.9,-2.0,-1.6,-1.2,-0.8,-0.4,0.0],
  [-9.2,-8.8,-6.4,-6.1,-5.0,-4.8,-3.9,-3.6,-3.3,-3.0,-2.7,-2.4,-2.1,-1.8,-1.5,-1.2,-0.9,-0.6,-0.3,0.0,0.2,0.5,0.9],
  [-8.1,-7.5,-6.8,-5.4,-5.0,-4.7,-4.4,-4.1,-3.8,-3.5,-3.2,-2.9,-2.6,-2.3,-2.0,-1.7,-1.4,-1.1,-0.8,-0.5,-0.2,0.1,0.4,1.5,2.2,3.9],
  [-9.4,-8.7,-7.3,-6.4,-5.8,-5.2,-4.9,-4.6,-4.3,-4.0,-3.7,-3.4,-3.1,-2.8,-2.5,-2.2,-1.9,-1.6,-1.3,-1.0,-0.7,-0.4],
  [-6.1,-5.1,-2.9,-2.5,-2.1,-1.7,-1.3,-0.9,-0.5,0.0,0.4],
  [-8.4,-7.0,-6.1,-5.3,-4.4,-4.0,-3.6,-3.2,-2.8,-2.4,-2.0,-1.5,-1.1,-0.7,-0.3,0.1,0.5,1.7,2.2],
  [-7.0,-5.3,-3.6,-3.1,-2.8,-2.5,-2.2,-1.9,-1.6,-1.3,-1.0,-0.7,-0.4,-0.1,0.2,0.6,1.0,2.2,2.5],
  [-8.9,-7.9,-7.2,-5.3,-4.9,-4.5,-4.1,-3.7,-3.3,-2.9,-2.5,-2.1,-1.7,-1.3,-0.9,-0.5,-0.2,0.4,0.8,1.2,1.6,2.7],
  [-8.1,-7.2,-5.8,-4.9,-4.5,-4.1,-3.7,-3.3,-2.9,-2.5,-2.1,-1.7,-1.3,-0.9,-0.6,0.6,1.0,1.4,1.8,2.2],
  [-3.4,-3.0,-2.6,-2.2,-1.8,-1.4,-1.0,-0.6],
  [-9.7,-8.9,-6.7,-6.0,-5.4,-5.0,-4.6,-4.2,-3.8,-3.4,-3.0,-2.6,-2.2,-1.8,-1.4,-1.0,-0.7,-0.4],
  [-8.1,-7.4,-4.6,-4.1,-3.7,-3.2,-2.7,-2.2,-1.8,-1.4,-1.0,-0.6,-0.2,0.2,0.6,1.0,1.5,2.0,2.4,2.9,3.9],
  [-8.1,-7.4,-6.4,-5.0,-3.6,-3.2,-2.7,-2.2,-1.8,-1.5,-1.2,-0.9,-0.6,-0.3,0.0,0.3,0.6,1.2,1.8,2.4]];

const rateUsLevels = [1.79, 1.74, 1.47, 1.37, 1.31, 1.09, 0.99, 0.84, 0.6, 0.42, 0.28, 0.17, -0.07, -0.25, -0.48, -0.78, -1.07, -1.23, -1.34, -1.5, -1.71];
const rateUsX = [
  [-6.4,-6.1,-5.5,-4.9,-4.2,-3.9,-3.6,-3.3,-2.9,-2.6,-2.3,-2.0,-1.7,-1.3,-1.0,0.35],
  [-4.4,-3.8,-3.1,-2.7,-2.3,-1.9,-1.5,-1.0,-0.5],
  [-9.4,-7.4,-6.9,-5.6,-5.3,-5.0,-4.7,-4.4,-4.1,-3.8,-3.5,-3.2,-2.9,-2.6,-2.3,-2.0,-1.7,-1.4,-1.0,0.1],
  [-9.1,-8.0,-6.5,-6.0,-5.5,-5.1,-4.6,-4.2,-3.6,-3.2,-2.7,-2.3,-1.6,-1.0],
  [-9.1,-8.0,-6.6,-6.2,-5.8,-5.4,-5.0,-4.6,-4.2,-3.8,-3.4,-3.0,-2.6,-2.2,-1.8,-1.4,-0.9,3.1],
  [-11.3,-9.7,-8.3,-7.0,-6.7,-6.4,-6.1,-5.8,-5.5,-5.2,-4.9,-4.6,-4.3,-4.0,-3.7,-3.4,-3.1,-2.8,-2.5,-2.2,-1.9,-1.7],
  [-4.6,-3.9,-3.2,-2.8,-2.4,-2.0,-1.6,-1.2,-0.8,-0.4,0.0,0.5],
  [-10.7,-8.0,-7.6,-6.6,-6.2,-5.8,-5.4,-5.0,-4.6,-4.2,-3.8,-3.4,-3.0,-2.6,-2.2,-1.8,-1.4,-1.0,-0.6,-0.2,0.5],
  [-8.6,-6.3,-5.9,-5.5,-5.1,-4.7,-4.3,-3.9,-3.5,-3.1,-2.7,-2.3,-1.9,-1.5,-1.1,-0.7,-0.3,0.1,0.5,1.0],
  [-6.6,-6.2,-5.8,-5.4,-5.0,-4.6,-4.2,-3.8,-3.4,-3.0,-2.6,-2.2,-1.8,-1.4,-1.0,-0.5],
  [-9.2,-8.6,-6.7,-6.2,-5.7,-5.2,-4.7,-4.2,-3.7,-3.2,-2.7,-2.2,-1.7,-1.2,-0.7,-0.2,0.3,0.6],
  [-8.8,-7.4,-6.9,-5.6,-5.2,-4.8,-4.4,-4.0,-3.6,-3.2,-2.8,-2.4,-2.0,-1.6,-1.2,-0.8,-0.4,0.0,0.4,0.8,1.2,1.9,2.7],
  [-9.1,-8.3,-6.6,-6.2,-5.8,-5.4,-5.0,-4.6,-4.2,-3.8,-3.4,-3.0,-2.6,-2.2,-1.8,-1.4,-1.0,-0.6,-0.2,0.5],
  [-8.0,-6.6,-5.5,-4.4,-4.0,-3.6,-3.2,-2.8,-2.4,-2.0,-1.6,-1.2,-0.8,-0.4,0.0,0.5],
  [-8.0,-7.4,-4.7,-4.3,-3.9,-3.5,-3.1,-2.7,-2.3,-1.9,-1.5,-1.1,-0.7,-0.3,0.1,0.5,1.0],
  [-7.8,-7.1,-6.6,-6.0,-5.5,-5.0,-4.5,-4.0,-3.5,-3.1,-2.7,-2.3,-1.9,-1.5,-1.1,-0.7,-0.3,0.1,0.5,0.9,1.4,1.9,2.4],
  [-7.7,-7.0,-5.4,-4.2,-3.8,-3.4,-3.0,-2.6,-2.2,-1.8,-1.4,-1.0,-0.6,-0.2,0.2,0.6,1.3,2.2,2.7],
  [-8.4,-6.9,-5.6,-4.9,-4.5,-4.1,-3.7,-3.3,-2.9,-2.5,-2.1,-1.7,-1.3,-0.9,-0.5,-0.1,0.3,0.9,1.3],
  [-8.0,-6.9,-5.9,-5.5,-5.1,-4.7,-4.3,-3.9,-3.5,-3.1,-2.7,-2.3,-1.9,-1.5,-1.1,-0.7,-0.3,0.1,0.5,1.0],
  [-7.5,-6.9,-5.4,-3.9,-3.5,-3.1,-2.7,-2.3,-1.9,-1.5,-1.1,-0.7,-0.3,0.1,0.5,0.9,1.4,1.9],
  [-6.9,-5.3,-3.7,-3.0,-2.6,-2.2,-1.8,-1.4,-1.0,-0.6,-0.2,0.2,0.5,1.0,2.2,2.7]];

const oilLevels = [1.82, 1.23, 1.14, 1.03, 0.92, 0.45, 0.36, 0.26, 0.09, -0.06, -0.2, -0.3, -0.39, -0.48, -0.61, -0.8, -0.86, -1.56, -1.62, -2.03];
const oilX = [
  [-11.3,-9.8,-8.3,-7.0,-6.6,-6.2,-5.8,-5.4,-5.1,-4.7,-4.3,-4.0,-3.6,-3.3,-3.0,-2.6,-2.3,-2.0,-1.7],
  [-10.7,-9.2,-8.6,-8.2,-7.2,-6.8,-6.4,-6.0,-5.6,-5.2,-4.8,-4.4,-4.0,-3.6,-3.3,-3.0,-2.7,-2.4,-2.1,-1.8,-1.5,-1.2,-0.8,-0.4,0.3],
  [-7.9,-7.3,-6.5,-5.6,-4.7,-4.3,-3.9,-3.5,-3.1,-2.7,-2.3,-1.9,-1.5,-1.1,-0.7,-0.3,0.1,0.6,1.1,1.6,2.1,2.8,3.3],
  [-9.3,-8.1,-7.4,-6.7,-5.7,-5.3,-4.9,-4.5,-4.1,-3.7,-3.3,-2.9,-2.6,-2.3,-2.0,-1.7,-1.4,-1.1,-0.8,-0.5,-0.2,0.1,0.5,0.9,1.3,1.7,2.2,2.7,3.9],
  [-7.8,-6.3,-4.2,-3.8,-3.4,-3.0,-2.6,-2.2,-1.8,-1.4,-1.0,-0.6,-0.2,0.2,0.6,1.0,1.5,2.0,2.5],
  [-9.3,-8.1,-6.6,-5.8,-5.4,-5.0,-4.6,-4.2,-3.8,-3.4,-3.0,-2.6,-2.2,-1.7,-1.2],
  [-9.2,-8.6,-5.6,-4.7,-4.3,-3.9,-3.5,-3.1,-2.7,-2.3,-1.9,-1.5,-1.1,-0.7,-0.3,0.1,0.8],
  [-7.9,-6.7,-4.5,-4.0,-3.5,-3.0,-2.5,-2.0,-1.5,-1.0,-0.5,0.2],
  [-8.8,-7.0,-5.6,-5.2,-4.8,-4.4,-4.0,-3.6,-3.2,-2.8,-2.4,-2.0,-1.6,-1.2,-0.8,-0.4,0.0,0.4,0.8,1.3,2.7],
  [-9.4,-7.5,-6.9,-5.7,-5.3,-4.9,-4.5,-4.1,-3.7,-3.3,-2.9,-2.5,-2.1,-1.7,-1.3,-0.9,-0.5,-0.1,0.3,0.9],
  [-8.9,-7.3,-5.4,-5.0,-4.6,-4.2,-3.8,-3.4,-3.0,-2.6,-2.2,-1.8,-1.4,-1.0,-0.6,-0.2,0.2,0.6],
  [-7.0,-6.5,-5.1,-4.1,-3.7,-3.3,-2.9,-2.5,-2.1,-1.7,-1.3,-0.9,-0.5,-0.1,0.3,0.7,1.1,2.0,2.5],
  [-8.0,-7.0,-6.0,-4.9,-4.5,-4.1,-3.7,-3.3,-2.9,-2.5,-2.1,-1.7,-1.3,-0.9,-0.5,-0.1,0.2,0.9,1.5],
  [-5.4,-4.9,-4.4,-3.9,-3.4,-2.9,-2.4,-1.9,-1.4,-0.9,-0.4],
  [-9.2,-8.4,-8.1,-7.1,-6.6,-6.1,-5.6,-5.1,-4.6,-4.1,-3.7,-3.3,-2.9,-2.5,-2.1,-1.7,-1.3,-0.9,-0.5,-0.1,0.3,0.7,1.1,1.5,3.1],
  [-4.9,-4.4,-3.9,-3.4,-2.9,-2.4,-1.9,-1.4,-0.9,-0.4,0.1,0.5],
  [-9.7,-8.9,-6.6,-6.1,-5.6,-5.2,-4.8,-4.4,-4.0,-3.6,-3.2,-2.8,-2.4,-2.0,-1.6,-1.2,-0.8,-0.4],
  [-8.7,-6.3,-5.1,-4.6,-4.1,-3.6,-3.1,-2.6,-2.1,-1.6,-1.1,-0.6,-0.1,0.3,1.0],
  [-7.4,-6.5,-5.0,-4.2,-3.8,-3.4,-3.0,-2.6,-2.2,-1.8,-1.4,-1.0,-0.6,-0.2,0.2,0.6,1.0,1.5,2.5],
  [-7.5,-6.9,-5.4,-5.1,-4.0,-3.8,-3.4,-3.0,-2.6,-2.2,-1.8,-1.4,-1.0,-0.6,-0.2,0.2,2.0,3.9]];

const vixLevels = [2.89, 1.25, 1.14, 0.75, 0.61, 0.51, 0.38, 0.34, 0.19, -0.38, -0.78, -0.92, -1.07, -1.24, -1.37];
const vixX = [
  [-8.0,-7.4,-4.7,-4.4,-4.0,-3.6,-3.1,-2.7,-2.4,-2.1,-1.8,-1.5,-1.2,-0.9,-0.6,-0.2,0.3,0.7,1.1,1.6,2.0,2.4,3.9],
  [-8.8,-7.4,-4.7,-4.3,-3.9,-3.5,-3.1,-2.7,-2.3,-1.9,-1.5,-1.0,0.0,0.7,1.2],
  [-11.3,-9.7,-8.3,-7.0,-6.5,-6.0,-5.5,-5.0,-4.5,-4.0,-3.6,-3.2,-2.8,-2.4,-2.0],
  [-8.6,-6.4,-5.2,-4.7,-4.2,-3.7,-3.2,-2.8,-2.4,-2.0,-1.6,-1.2,-0.8,-0.3,1.0],
  [-10.7,-9.1,-8.0,-7.6,-7.2,-6.8,-6.4,-6.0,-5.6,-5.2,-4.8,-4.4,-4.0,-3.6,-3.2,-2.8,-2.5,-2.0,-1.0,0.5],
  [-9.7,-8.8,-6.6,-6.2,-5.8,-5.4,-5.0,-4.6,-4.2,-3.8,-3.4,-3.0,-2.6,-2.2,-1.8,-1.4,-1.0,-0.5],
  [-8.7,-7.6,-7.1,-6.3,-5.4,-5.0,-4.6,-4.2,-3.8,-3.4,-3.0,-2.6,-2.2,-1.8,-1.4,-1.0,-0.6,-0.2,0.2,0.5,1.7,2.7],
  [-8.8,-5.4,-4.9,-4.4,-3.9,-3.4,-2.9,-2.4,-1.9,-1.4,-0.9,-0.4,0.1,0.6,1.0,1.4],
  [-9.0,-7.5,-6.5,-5.9,-5.0,-4.6,-4.2,-3.8,-3.4,-3.0,-2.6,-2.2,-1.8,-1.4,-1.0,-0.6,-0.2,0.2,0.6,1.0,1.5,2.2,2.5],
  [-8.4,-7.8,-6.9,-6.5,-6.1,-5.7,-5.3,-4.9,-4.5,-4.1,-3.7,-3.3,-2.9,-2.5,-2.1,-1.7,-1.3,-0.9,-0.5,-0.1,0.3,0.7,1.1,1.5,1.9,2.4],
  [-6.9,-5.4,-3.6,-2.7,-2.3,-1.9,-1.5,-1.1,-0.7,-0.3,0.1,0.5,1.0,2.2,2.4],
  [-8.0,-6.9,-6.1,-5.6,-5.2,-4.8,-4.4,-4.0,-3.6,-3.2,-2.8,-2.4,-2.0,-1.6,-1.2,-0.8,-0.4,0.0,0.5,1.2],
  [-9.3,-8.1,-7.5,-6.9,-5.6,-5.2,-4.8,-4.4,-4.0,-3.6,-3.2,-2.8,-2.4,-2.0,-1.6,-1.2,-1.0,-0.5,0.0],
  [-9.1,-8.5,-6.9,-6.4,-6.0,-5.6,-5.2,-4.8,-4.4,-4.0,-3.6,-3.2,-2.8,-2.4,-2.0,-1.6,-1.2,-0.8,-0.4,0.7],
  [-4.8,-4.4,-3.9,-3.5,-3.1,-2.7,-2.3,-1.9,-1.5,-1.1,-0.7,-0.3,0.0,0.5]];

const levelPts = (levels, xs) => levels.flatMap((lv, i) => xs[i].map((x) => [x, lv]));

const points = [caBalancePts, cpiPts, diffUnemplPts, dynGdpPts,
  levelPts(chinaLevels, chinaX), levelPts(gdpUsLevels, gdpUsX), gdpPerCapPts, levelPts(rateUsLevels, rateUsX),
  netLendingPts, levelPts(oilLevels, oilX), publicDebtPts, levelPts(vixLevels, vixX)];

// ---- layout ----
const width = 1049;
const height = 1054;
const colLeft = [50, 305, 565, 826];
const rowTop = [28.5, 368.5, 708];
const panelW = 228;
const panelH = 310.5;
const stripH = 21;

const svg = d3.select('.div_facets')
  .append('svg')
  .attr('width', width)
  .attr('height', height);

const x = d3.scaleLinear().domain([-12.05, 4.64]).range([0, panelW]);
const xMinor = [-10, -6, -2, 2];

const minorOf = (ticks, dom) => {
  const step = ticks[1] - ticks[0];
  const out = [ticks[0] - step / 2, ...ticks.map((t) => t + step / 2)];
  return out.filter((v) => v > dom[0] && v < dom[1]);
};

names.forEach((name, i) => {
  const col = i % 4;
  const row = Math.floor(i / 4);
  const g = svg.append('g').attr('transform', `translate(${colLeft[col]},${rowTop[row]})`);
  const y = d3.scaleLinear().domain(yLimits[i]).range([panelH, 0]);

  g.append('clipPath').attr('id', `clip${i}`)
    .append('rect').attr('width', panelW).attr('height', panelH);

  // background + grid
  g.append('rect').attr('width', panelW).attr('height', panelH).attr('fill', '#fff');
  const grid = g.append('g').attr('clip-path', `url(#clip${i})`);
  minorOf(yTicks[i], yLimits[i]).forEach((v) => {
    grid.append('line').attr('x1', 0).attr('x2', panelW).attr('y1', y(v)).attr('y2', y(v))
      .attr('stroke', '#f0f0f0').attr('stroke-width', 0.6);
  });
  xMinor.forEach((v) => {
    grid.append('line').attr('y1', 0).attr('y2', panelH).attr('x1', x(v)).attr('x2', x(v))
      .attr('stroke', '#f0f0f0').attr('stroke-width', 0.6);
  });
  yTicks[i].forEach((v) => {
    grid.append('line').attr('x1', 0).attr('x2', panelW).attr('y1', y(v)).attr('y2', y(v))
      .attr('stroke', '#e6e6e6').attr('stroke-width', 1);
  });
  xTicks.forEach((v) => {
    grid.append('line').attr('y1', 0).attr('y2', panelH).attr('x1', x(v)).attr('x2', x(v))
      .attr('stroke', '#e6e6e6').attr('stroke-width', 1);
  });

  // points
  const body = g.append('g').attr('clip-path', `url(#clip${i})`);
  body.selectAll('circle')
    .data(points[i])
    .enter()
    .append('circle')
    .attr('cx', (d) => x(d[0]))
    .attr('cy', (d) => y(d[1]))
    .attr('r', 1.1)
    .attr('fill', '#000')
    .attr('fill-opacity', 0.9);

  // loess band and line
  const fit = fitX.map((fx, k) => ({ x: fx, y: fitY[i][k], lo: fitLo[i][k], hi: fitHi[i][k] }));
  body.append('path')
    .datum(fit)
    .attr('fill', '#999999')
    .attr('fill-opacity', 0.4)
    .attr('d', d3.area().x((d) => x(d.x)).y0((d) => y(d.lo)).y1((d) => y(d.hi)).curve(d3.curveMonotoneX));
  body.append('path')
    .datum(fit)
    .attr('fill', 'none')
    .attr('stroke', '#3366FF')
    .attr('stroke-width', 2)
    .attr('d', d3.line().x((d) => x(d.x)).y((d) => y(d.y)).curve(d3.curveMonotoneX));

  // border
  g.append('rect').attr('width', panelW).attr('height', panelH)
    .attr('fill', 'none').attr('stroke', '#333').attr('stroke-width', 0.8);

  // strip
  g.append('rect').attr('y', -stripH).attr('width', panelW).attr('height', stripH)
    .attr('fill', '#d9d9d9').attr('stroke', '#333').attr('stroke-width', 0.8);
  g.append('text')
    .attr('x', panelW / 2).attr('y', -stripH / 2 + 4)
    .attr('text-anchor', 'middle').attr('font-size', '11px').attr('fill', '#1a1a1a')
    .text(name);

  // y axis
  const yAxis = g.append('g')
    .call(d3.axisLeft(y).tickValues(yTicks[i]).tickSize(3).tickPadding(2)
      .tickFormat((d) => d.toFixed(yDecimals[i])));
  yAxis.select('.domain').remove();
  yAxis.selectAll('line').attr('stroke', '#333');
  yAxis.selectAll('text').attr('fill', '#4d4d4d').attr('font-size', '11.5px')
    .attr('font-family', '"Liberation Sans", Arial, sans-serif');

  // x axis on bottom row
  if (row === 2) {
    const xAxis = g.append('g').attr('transform', `translate(0,${panelH})`)
      .call(d3.axisBottom(x).tickValues(xTicks).tickSize(3).tickPadding(2)
        .tickFormat((d) => String(d)));
    xAxis.select('.domain').remove();
    xAxis.selectAll('line').attr('stroke', '#333');
    xAxis.selectAll('text').attr('fill', '#4d4d4d').attr('font-size', '11.5px')
      .attr('font-family', '"Liberation Sans", Arial, sans-serif');
  }
});

// axis titles
svg.append('text')
  .attr('x', 549).attr('y', 1048)
  .attr('text-anchor', 'middle').attr('font-size', '14px').attr('fill', '#000')
  .text('logit');

svg.append('text')
  .attr('transform', 'translate(17,512) rotate(-90)')
  .attr('text-anchor', 'middle').attr('font-size', '14px').attr('fill', '#000')
  .text('predictor.value');
</script>
</body>
</html>
